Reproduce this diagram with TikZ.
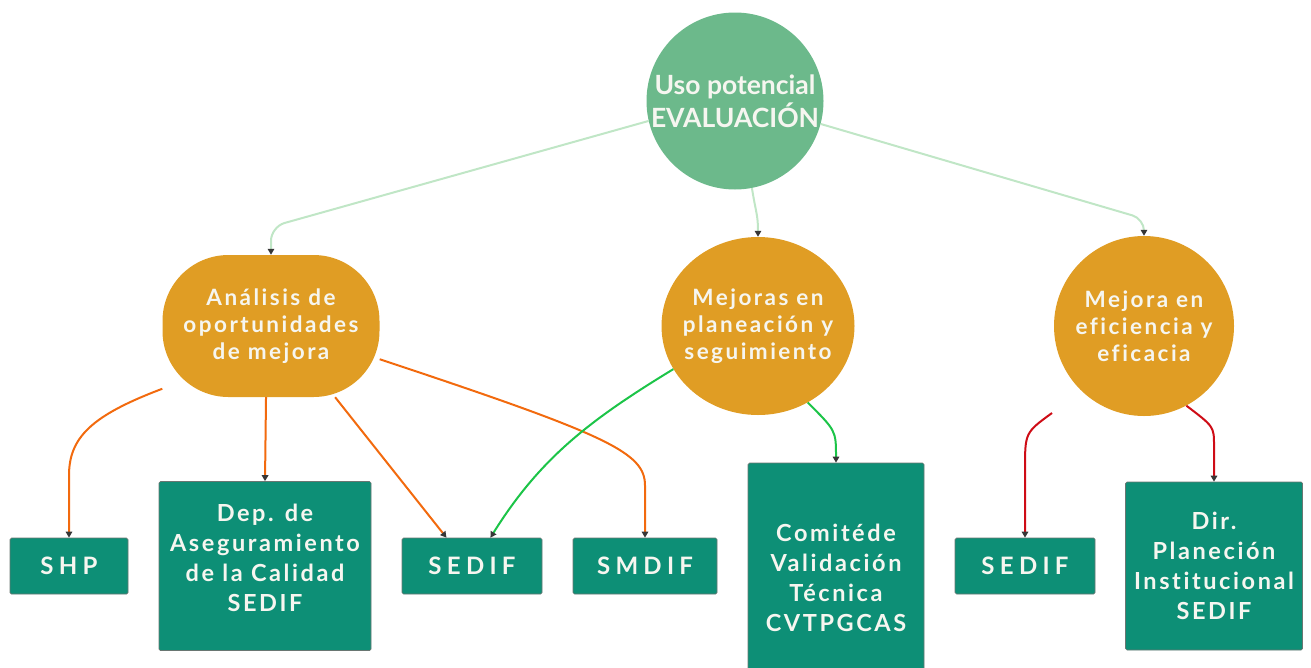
\documentclass[tikz,border=0pt]{standalone}
\usepackage{fontspec}
\setmainfont{Lato}
\newfontfamily\lato[LetterSpace=11,Ligatures=NoCommon]{Lato}
\newfontfamily\latowide[LetterSpace=22,Ligatures=NoCommon]{Lato}
\usetikzlibrary{arrows.meta,calc,shapes.geometric}

\definecolor{evalgreen}{RGB}{108,185,139}
\definecolor{areaorange}{RGB}{224,157,36}
\definecolor{unitgreen}{RGB}{13,143,118}
\definecolor{unitedge}{RGB}{105,118,114}
\definecolor{paletext}{RGB}{246,246,240}
\definecolor{linkpale}{RGB}{192,230,198}
\definecolor{linkorange}{RGB}{242,106,14}
\definecolor{linkgreen}{RGB}{28,196,72}
\definecolor{linkred}{RGB}{206,12,22}
\definecolor{tipgray}{RGB}{55,55,55}

\tikzset{
  evalnode/.style={circle,fill=evalgreen,minimum size=177pt,inner sep=0pt,align=center,text=paletext,font=\bfseries\fontsize{26.5}{33}\selectfont},
  areanode/.style={fill=areaorange,inner sep=0pt,align=center,text=paletext,font=\lato\bfseries\fontsize{22.5}{27}\selectfont},
  unitnode/.style={rectangle,fill=unitgreen,draw=unitedge,line width=0.7pt,rounded corners=1.5pt,inner sep=0pt,align=center,text=paletext,font=\lato\bfseries\fontsize{23.5}{30}\selectfont},
  wideunit/.style={unitnode,font=\latowide\bfseries\fontsize{24}{30}\selectfont,minimum width=140pt,minimum height=56pt},
  link/.style={line width=2pt,-{Triangle[length=6pt,width=6.5pt,color=tipgray]}},
}

\begin{document}
\begin{tikzpicture}[x=1pt,y=1pt,yscale=-1,xscale=1]
\useasboundingbox (0,0) rectangle (1311,667);

%Shape: Circle
\node[evalnode] (eval) at (735,101) {Uso potencial\\EVALUACIÓN};

%Shape: Rounded Rectangle
\node[areanode,rectangle,rounded corners=66pt,minimum width=217pt,minimum height=142pt] (analisis) at (271,326) {Análisis de\\oportunidades\\de mejora};
%Shape: Ellipse
\node[areanode,ellipse,inner sep=-20pt,minimum width=193pt,minimum height=178pt] (planea) at (758,326) {Mejoras en\\planeación y\\seguimiento};
%Shape: Circle
\node[areanode,circle,minimum size=180pt] (eficien) at (1144,326) {Mejora en\\eficiencia y\\eficacia};

%Shape: Rectangle
\node[wideunit,minimum width=118pt] (shp) at (69,566) {SHP};
\node[unitnode,minimum width=212pt,minimum height=169pt] (asegura) at (265,566) {Dep. de\\Aseguramiento\\de la Calidad\\SEDIF\\[-14pt]};
\node[wideunit] (sedifa) at (472,566) {SEDIF};
\node[wideunit,minimum width=144pt] (smdif) at (645,566) {SMDIF};
\node[unitnode,minimum width=176pt,minimum height=230pt] (comite) at (836,578) {Comitéde\\Validación\\Técnica\\CVTPGCAS};
\node[wideunit] (sedifb) at (1025,566) {SEDIF};
\node[unitnode,minimum width=177pt,minimum height=168pt] (planinst) at (1214,566) {Dir.\\Planeción\\Institucional\\SEDIF};

%Curve Lines
\draw[link,linkpale,rounded corners=14pt] (eval.193) -- ($(analisis.north)+(0,-28)$) -- (analisis.north);
\draw[link,linkpale] (eval.281) .. controls ($(eval.281)+(4,25)$) and ($(planea.north)+(0,-22)$) .. (planea.north);
\draw[link,linkpale,rounded corners=12pt] (eval.345) -- ($(eficien.north)+(0,-17)$) -- (eficien.north);

%Curve Lines
\draw[link,linkorange] (analisis.210) .. controls ($(shp.north)+(22,-122)$) and ($(shp.north)+(0,-100)$) .. ($(shp.north)+(0,-62)$) -- (shp.north);
\draw[link,linkorange] (analisis.266) -- (asegura.north);
\draw[link,linkorange] (analisis.312) -- (sedifa.132);
\draw[link,linkorange] (analisis.343) .. controls ($(smdif.north)+(-35,-102)$) and ($(smdif.north)+(0,-85)$) .. ($(smdif.north)+(0,-52)$) -- (smdif.north);

%Curve Lines
\draw[link,linkgreen] (planea.207) .. controls ($(sedifa.57)+(100,-118)$) and ($(sedifa.57)+(50,-80)$) .. (sedifa.57);
\draw[link,linkgreen] (planea.303) .. controls ($(comite.north)+(0,-32)$) .. (comite.north);

%Curve Lines
\draw[link,linkred] ($(eficien)+(-92,87)$) .. controls ($(sedifb.north)+(0,-105)$) .. ($(sedifb.north)+(0,-68)$) -- (sedifb.north);
\draw[link,linkred] (eficien.298) .. controls ($(planinst.north)+(0,-55)$) .. ($(planinst.north)+(0,-36)$) -- (planinst.north);

\end{tikzpicture}
\end{document}
